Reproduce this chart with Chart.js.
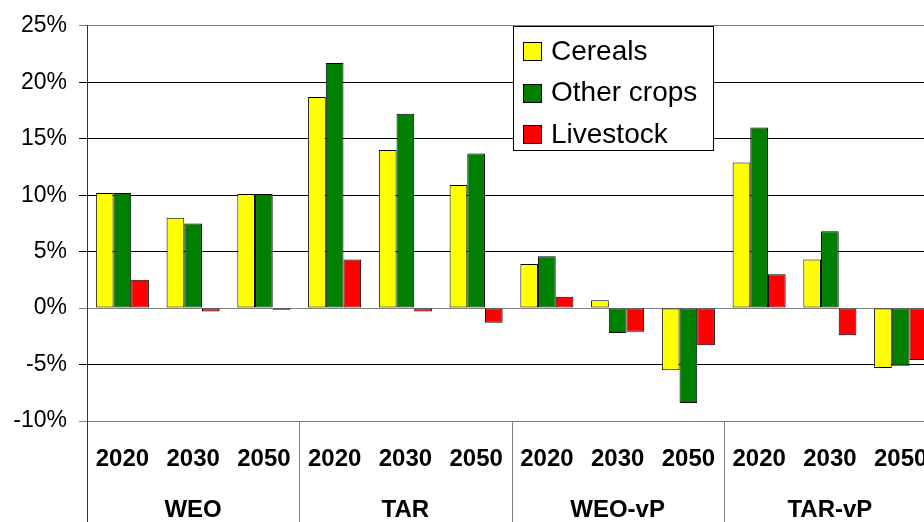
<!DOCTYPE html>
<html>
<head>
<meta charset="utf-8">
<script src="https://cdn.jsdelivr.net/npm/chart.js@4/dist/chart.umd.min.js"></script>
<style>
  html, body { margin: 0; padding: 0; background: #fff; overflow: hidden; }
  canvas { display: block; }
</style>
</head>
<body>
<canvas id="c" width="937" height="522"></canvas>
<script>
// Scenarios and the projection years shown for each
const scenarios = ['WEO', 'TAR', 'WEO-vP', 'TAR-vP'];
const years = ['2020', '2030', '2050'];

// Change in production (%) per scenario/year
const cereals    = [10.2, 8.0, 10.1, 18.7, 14.0, 10.9, 3.9, 0.7, -5.5, 12.9, 4.3, -5.3];
const otherCrops = [10.2, 7.5, 10.1, 21.7, 17.2, 13.7, 4.6, -2.2, -8.4, 16.0, 6.8, -5.1];
const livestock  = [2.5, -0.3, -0.15, 4.3, -0.3, -1.3, 1.0, -2.1, -3.3, 3.0, -2.4, -4.6];

// y-axis ticks (percent)
const yTicks = [-10, -5, 0, 5, 10, 15, 20, 25];

const seriesNames = ['Cereals', 'Other crops', 'Livestock'];
const seriesColors = ['#FFFF00', '#008000', '#FF0000'];

const yearLabels = [];
scenarios.forEach(() => years.forEach(y => yearLabels.push(y)));

const AX_FONT = '"Liberation Sans", Arial, sans-serif';

// Vertical separators between scenario groups, below the plot
const groupSeparators = {
  id: 'groupSeparators',
  afterDraw(chart) {
    const ctx = chart.ctx;
    const xs = chart.scales.x;
    const n = yearLabels.length;
    const step = (xs.right - xs.left) / n;
    ctx.save();
    ctx.lineWidth = 1;
    for (let g = 0; g <= scenarios.length; g++) {
      const idx = g * years.length;
      const px = Math.round(xs.left + idx * step) + 0.5;
      ctx.strokeStyle = g === 0 ? '#333333' : '#808080';
      ctx.beginPath();
      ctx.moveTo(px, chart.chartArea.bottom);
      ctx.lineTo(px, chart.height);
      ctx.stroke();
    }
    ctx.restore();
  }
};

// Boxed legend floating inside the plot area
const boxedLegend = {
  id: 'boxedLegend',
  afterDraw(chart) {
    const ctx = chart.ctx;
    const bx = 513.5, by = 26.5, bw = 200, bh = 124;
    ctx.save();
    ctx.fillStyle = '#ffffff';
    ctx.fillRect(bx, by, bw, bh);
    ctx.strokeStyle = '#000000';
    ctx.lineWidth = 1;
    ctx.strokeRect(bx, by, bw, bh);
    ctx.font = '28px ' + AX_FONT;
    ctx.textBaseline = 'middle';
    ctx.textAlign = 'left';
    chart.data.datasets.forEach((ds, i) => {
      const cy = 51 + i * 41.7;
      ctx.fillStyle = ds.backgroundColor;
      ctx.fillRect(523.5, Math.round(cy - 9) + 0.5, 18, 18);
      ctx.strokeStyle = '#000';
      ctx.strokeRect(523.5, Math.round(cy - 9) + 0.5, 18, 18);
      ctx.fillStyle = '#000';
      ctx.fillText(ds.label, 551, cy + 1);
    });
    ctx.restore();
  }
};

const gridColor = (v) => (v === 25 || v === 0 || v === -10) ? '#808080' : '#000000';

// keep the category axes from reserving side room for their labels
const noSidePadding = (scale, h) => {
  scale.height = h;
  scale.paddingLeft = 0;
  scale.paddingRight = 0;
};

new Chart(document.getElementById('c'), {
  type: 'bar',
  data: {
    labels: yearLabels,
    datasets: [cereals, otherCrops, livestock].map((d, i) => ({
      label: seriesNames[i],
      data: d,
      backgroundColor: seriesColors[i],
      borderColor: '#000000',
      borderWidth: 1,
      borderSkipped: false,
      categoryPercentage: 0.75,
      barPercentage: 1.0,
      xAxisID: 'x',
      yAxisID: 'y'
    }))
  },
  options: {
    responsive: false,
    animation: false,
    devicePixelRatio: 1,
    layout: { padding: { top: 23, right: 1, left: 0, bottom: 0 } },
    plugins: { legend: { display: false }, tooltip: { enabled: false } },
    scales: {
      y: {
        min: -10, max: 25,
        afterBuildTicks(scale) { scale.ticks = yTicks.map(v => ({ value: v })); },
        afterFit(scale) { scale.width = 87; },
        ticks: {
          font: { family: AX_FONT, size: 23 },
          color: '#000',
          padding: 12,
          callback: v => v + '%'
        },
        grid: {
          color: ctx => gridColor(ctx.tick ? ctx.tick.value : null),
          lineWidth: 1,
          tickLength: 8,
          drawTicks: true
        },
        border: { display: true, color: '#333333', width: 1 }
      },
      x: {
        position: 'bottom',
        offset: true,
        afterFit(scale) { noSidePadding(scale, 70); },
        grid: { display: false, drawTicks: false },
        border: { display: false },
        ticks: {
          autoSkip: false, maxRotation: 0,
          font: { family: AX_FONT, size: 24, weight: 'bold' },
          color: '#000',
          padding: 24
        }
      },
      x2: {
        type: 'category',
        position: 'bottom',
        labels: scenarios,
        offset: true,
        afterFit(scale) { noSidePadding(scale, 31); },
        grid: { display: false, drawTicks: false },
        border: { display: false },
        ticks: {
          autoSkip: false, maxRotation: 0,
          font: { family: AX_FONT, size: 24, weight: 'bold' },
          color: '#000',
          padding: 5
        }
      }
    }
  },
  plugins: [groupSeparators, boxedLegend]
});
</script>
</body>
</html>
